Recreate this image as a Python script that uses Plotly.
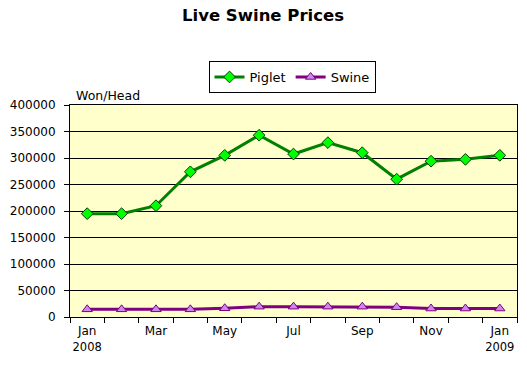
import plotly.graph_objects as go

months = ["2008-01","2008-02","2008-03","2008-04","2008-05","2008-06","2008-07",
          "2008-08","2008-09","2008-10","2008-11","2008-12","2009-01"]
tick_text = ["Jan<br><span style='font-size:11.5px'>2008</span>", "", "Mar", "", "May", "", "Jul", "",
             "Sep", "", "Nov", "", "Jan<br><span style='font-size:11.5px'>2009</span>"]
piglet = [195000,195000,210000,274000,305000,343000,307500,329000,310000,260000,294000,297500,305000]
swine = [14500,14500,14500,14500,16500,19500,19500,19500,19500,18500,16000,16000,16000]
y_ticks = [0,50000,100000,150000,200000,250000,300000,350000,400000]

W, H = 527, 366

fig = go.Figure()
fig.add_trace(go.Scatter(x=months, y=piglet, name="Piglet", mode="lines+markers",
                         line=dict(color="#008000", width=3),
                         marker=dict(symbol="diamond", size=9, color="#00FF00",
                                     line=dict(color="#004000", width=1))))
fig.add_trace(go.Scatter(x=months, y=swine, name="Swine", mode="lines+markers",
                         line=dict(color="#800080", width=3),
                         marker=dict(symbol="triangle-up", size=9, color="#CC88EE",
                                     line=dict(color="#800080", width=1))))

fig.update_layout(
    width=W, height=H,
    margin=dict(l=70, r=10, t=105, b=49, autoexpand=False),
    paper_bgcolor="white", plot_bgcolor="#FFFFCC",
    font=dict(family="DejaVu Sans", size=12, color="black"),
    title=dict(text="<b>Live Swine Prices</b>", x=263 / W, xanchor="center",
               yref="container", y=1 - 15 / H, yanchor="middle",
               font=dict(size=16.5, family="DejaVu Sans", color="black")),
    legend=dict(orientation="h", xref="container", x=292 / W, xanchor="center",
                yref="container", y=1 - 77 / H, yanchor="middle",
                bordercolor="black", borderwidth=1, bgcolor="white",
                font=dict(size=13), tracegroupgap=0),
    showlegend=True,
    hovermode=False,
)
fig.update_xaxes(type="category", tickmode="array", tickvals=months, ticktext=tick_text,
                 range=[-0.5, len(months) - 0.5],
                 tickson="boundaries", ticks="outside", ticklen=5, tickcolor="black",
                 tickangle=0, automargin=False, ticklabelstandoff=3,
                 showline=True, linecolor="black", linewidth=1, mirror=True,
                 showgrid=False, tickfont=dict(size=12))
fig.update_yaxes(range=[0, 400000], tickvals=y_ticks, ticktext=[str(v) for v in y_ticks],
                 ticks="outside", ticklen=5, tickcolor="black", automargin=False,
                 ticklabelstandoff=6,
                 showline=True, linecolor="black", linewidth=1, mirror=True,
                 showgrid=True, gridcolor="black", gridwidth=1, zeroline=False,
                 tickfont=dict(size=12))
fig.add_annotation(text="Won/Head", xref="paper", yref="paper", x=0.008, y=1.0,
                   xanchor="left", yanchor="bottom", showarrow=False, font=dict(size=12.5))
fig.write_html("out.html", config={"displayModeBar": False},
               post_script="document.body.style.margin='0';")
